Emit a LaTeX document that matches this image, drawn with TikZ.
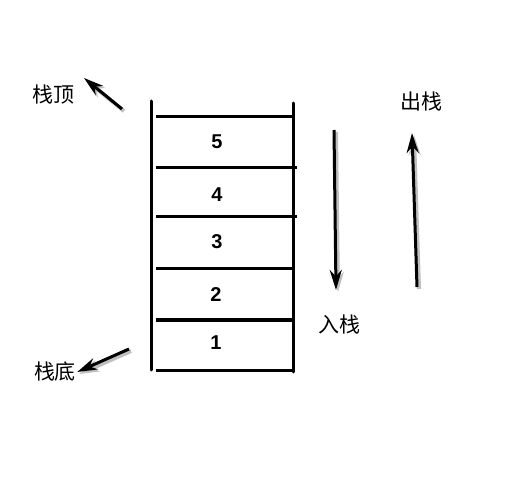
\documentclass[tikz,border=0pt]{standalone}
\usepackage{fontspec}
\setmainfont{Liberation Sans}
\newfontfamily\cjk{Noto Sans CJK SC}
\usetikzlibrary{arrows.meta, positioning, calc, shadows}

\tikzset{
  wall/.style={line width=3pt, line cap=round},
  shelf/.style={line width=3pt},
  num/.style={font=\fontsize{20}{20}\selectfont\bfseries, inner sep=0pt},
  tag/.style={font=\cjk\fontsize{21}{21}\selectfont, inner sep=1pt},
  pointer/.style={line width=3pt, -{Stealth[length=20pt,width=12pt]},
    preaction={draw=black!25, line width=4pt, transform canvas={shift={(2pt,-2pt)}}}},
}

\begin{document}
\begin{tikzpicture}[x=1pt,y=-1pt]
            \useasboundingbox (0,0) rectangle (522,494);
            % Stack walls
            \draw[wall] (151,101) -- (151,370);
            \draw[wall] (293,103) -- (293,372);
            
            % Shelves
            \draw[shelf] (156,117) -- (293,117);
            \draw[shelf] (156,168) -- (297,168);
            \draw[shelf] (156,217) -- (297,217);
            \draw[shelf] (156,269) -- (293,269);
            \draw[shelf] (156,320) -- (293,320);
            \draw[shelf] (156,370) -- (293,370);
            
            % Items
            \node[num] (n5) at (217,142) {5};
            \node[num] (n4) at (217,195) {4};
            \node[num] (n3) at (217,242) {3};
            \node[num] (n2) at (216,295) {2};
            \node[num] (n1) at (216,343) {1};
            
            % Labels
            \node[tag] (top) at (53,95) {栈顶};
            \node[tag] (bottom) at (55,372) {栈底};
            \node[tag] (pop) at (421,102) {出栈};
            \node[tag] (push) at (339,325) {入栈};
            
            % Arrows
            \coordinate (topfrom) at (122,109);
            \coordinate (topto) at (84,78);
            \coordinate (bottomfrom) at (129,349);
            \coordinate (pushfrom) at (334,130);
            \coordinate (pushto) at (336,290);
            \coordinate (popfrom) at (417,287);
            \coordinate (popto) at (412,133);
            \draw[pointer] (topfrom) -- (topto);
            \draw[pointer] (bottomfrom) -- (bottom.east);
            \draw[pointer] (pushfrom) -- (pushto);
            \draw[pointer] (popfrom) -- (popto);
\end{tikzpicture}
\end{document}
